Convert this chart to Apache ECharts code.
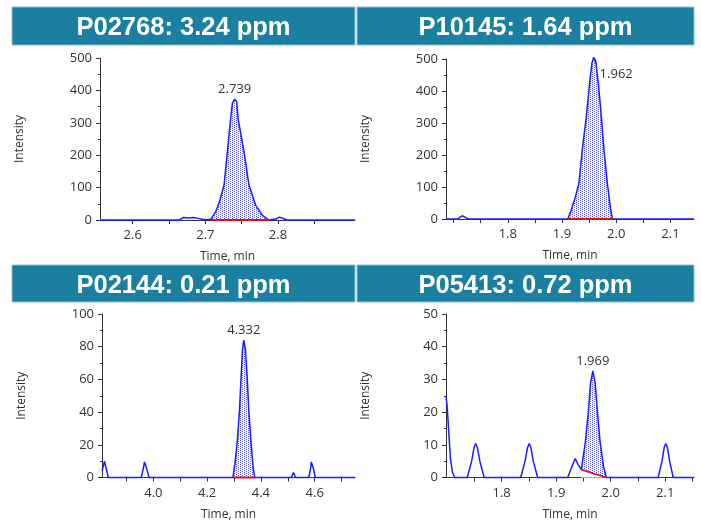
<!DOCTYPE html>
<html>
<head>
<meta charset="utf-8">
<script src="https://cdn.jsdelivr.net/npm/echarts@6/dist/echarts.min.js"></script>
<style>
html, body { margin: 0; padding: 0; background: #fff; }
#main { width: 701px; height: 523px; }
</style>
</head>
<body>
<div id="main"></div>
<script>
// titles of the four panels
var titles = ['P02768: 3.24 ppm', 'P10145: 1.64 ppm', 'P02144: 0.21 ppm', 'P05413: 0.72 ppm'];

// P02768 trace (time, intensity)
var p1Time = [2.555, 2.664, 2.670, 2.677, 2.684, 2.690, 2.696, 2.702, 2.7075, 2.7144, 2.720, 2.7258, 2.7304, 2.7349, 2.7372, 2.7404, 2.7432, 2.745, 2.7532, 2.760, 2.7692, 2.7783, 2.7874, 2.797, 2.802, 2.808, 2.812, 2.906];
var p1Int = [0, 0, 8, 6, 8, 5, 2, 1, 2, 26, 60, 108, 211, 314, 360, 373, 365, 314, 211, 108, 46, 15, 0, 3, 9, 4, 0, 0];
var p1Window = [2.7075, 2.7874];
var p1Apex = [2.7404, 373, '2.739'];

// P10145 trace
var p2Time = [1.686, 1.708, 1.712, 1.716, 1.721, 1.727, 1.9108, 1.917, 1.924, 1.9312, 1.9374, 1.9448, 1.9509, 1.9552, 1.9583, 1.962, 1.967, 1.9726, 1.9774, 1.9837, 1.9898, 1.993, 2.1435];
var p2Int = [0, 0, 6, 10, 6, 0, 0, 28, 65, 111, 216, 319, 424, 487, 505, 495, 424, 319, 216, 111, 28, 0, 0];
var p2Window = [1.9108, 1.993];
var p2Apex = [1.9583, 500, '1.962'];
var p2Leader = [[1.9590, 500], [1.9635, 484]];

// P02144 trace
var p3Time = [3.809, 3.814, 3.818, 3.822, 3.827, 3.832, 3.955, 3.962, 3.967, 3.971, 3.976, 3.984, 4.2957, 4.303, 4.3117, 4.3204, 4.3265, 4.3315, 4.3364, 4.3426, 4.3488, 4.3549, 4.3636, 4.371, 4.3772, 4.513, 4.521, 4.529, 4.578, 4.584, 4.5876, 4.5916, 4.596, 4.602, 4.75];
var p3Int = [4, 7, 10, 10, 4, 0, 0, 5, 9.5, 9.5, 5, 0, 0, 8, 21, 41, 62, 78, 84, 78, 62, 41, 21, 6, 0, 0, 3, 0, 0, 5, 9.5, 9.5, 5, 0, 0];
var p3Window = [4.2957, 4.3772];
var p3Apex = [4.3364, 84, '4.332'];

// P05413 trace
var p4Time = [1.698, 1.700, 1.703, 1.706, 1.710, 1.714, 1.737, 1.745, 1.7495, 1.7525, 1.7555, 1.760, 1.768, 1.835, 1.843, 1.8476, 1.8506, 1.8536, 1.858, 1.866, 1.9212, 1.928, 1.9348, 1.940, 1.946, 1.9532, 1.9593, 1.963, 1.9672, 1.9716, 1.9753, 1.9808, 1.9869, 1.9918, 2.087, 2.094, 2.098, 2.101, 2.104, 2.108, 2.1146, 2.1527];
var p4Int = [25, 22, 14, 6, 1.5, 0, 0, 5, 9.2, 10.4, 9.2, 5, 0, 0, 5, 9.2, 10.4, 9.2, 5, 0, 0, 3, 5.8, 4, 2.4, 10.4, 20.6, 28.8, 32.6, 28.8, 20.6, 10.4, 3.3, 0, 0, 5, 9.2, 10.4, 9.2, 5, 0, 0];
var p4Window = [1.946, 1.9918];
var p4Baseline = [[1.946, 2.4], [1.9918, 0]];
var p4Apex = [1.9672, 32.6, '1.969'];

// axis ticks
var p1Labels = [2.6, 2.7, 2.8];
var p1Ticks = [2.6, 2.65, 2.7, 2.75, 2.8, 2.85];
var p2Labels = [1.8, 1.9, 2.0, 2.1];
var p2Ticks = [1.7, 1.75, 1.8, 1.85, 1.9, 1.95, 2.0, 2.05, 2.1];
var p3Labels = [4.0, 4.2, 4.4, 4.6];
var p3Ticks = [3.9, 4.0, 4.1, 4.2, 4.3, 4.4, 4.5, 4.6, 4.7];
var p4Labels = [1.8, 1.9, 2.0, 2.1];
var p4Ticks = [1.75, 1.8, 1.85, 1.9, 1.95, 2.0, 2.05, 2.1, 2.15];

function pairs(t, v) {
    return t.map(function (x, i) { return [x, v[i]]; });
}
function inWindow(t, v, w) {
    return pairs(t, v).filter(function (p) { return p[0] >= w[0] && p[0] <= w[1]; });
}

// dotted fill like the integration hatch
function dotPattern() {
    var c = document.createElement('canvas');
    c.width = 4; c.height = 2;
    var ctx = c.getContext('2d');
    ctx.fillStyle = '#ffffff';
    ctx.fillRect(0, 0, 4, 2);
    ctx.fillStyle = '#5858ff';
    ctx.fillRect(0, 0, 1, 1);
    ctx.fillRect(2, 1, 1, 1);
    return c;
}
var pattern = { image: dotPattern(), repeat: 'repeat' };

var panels = [
    { grid: { left: 100, top: 58, width: 255, height: 162 }, min: 2.555, max: 2.906, ymax: 500, yint: 100,
      t: p1Time, v: p1Int, w: p1Window, apex: p1Apex, labels: p1Labels, ticks: p1Ticks, labelPos: 'top' },
    { grid: { left: 446, top: 59, width: 248, height: 160 }, min: 1.686, max: 2.1435, ymax: 500, yint: 100,
      t: p2Time, v: p2Int, w: p2Window, apex: p2Apex, labels: p2Labels, ticks: p2Ticks, labelPos: 'right',
      leader: p2Leader },
    { grid: { left: 102, top: 314, width: 253, height: 163.5 }, min: 3.809, max: 4.75, ymax: 100, yint: 20,
      t: p3Time, v: p3Int, w: p3Window, apex: p3Apex, labels: p3Labels, ticks: p3Ticks, labelPos: 'top' },
    { grid: { left: 446, top: 314, width: 248, height: 163.5 }, min: 1.698, max: 2.1527, ymax: 50, yint: 10,
      t: p4Time, v: p4Int, w: p4Window, apex: p4Apex, labels: p4Labels, ticks: p4Ticks, labelPos: 'top',
      baseline: p4Baseline }
];

var axisColor = '#333';
var font = '"Open Sans", "Noto Sans", sans-serif';
var grids = [], xAxes = [], yAxes = [], series = [], graphics = [];

panels.forEach(function (p, i) {
    grids.push(p.grid);
    xAxes.push({
        type: 'value', gridIndex: i, min: p.min, max: p.max,
        name: 'Time, min', nameLocation: 'middle', nameGap: 31,
        nameTextStyle: { color: axisColor, fontSize: 12, fontFamily: font },
        axisLine: { onZero: false, lineStyle: { color: axisColor } },
        axisTick: { show: true, length: 4, customValues: p.ticks, lineStyle: { color: axisColor } },
        axisLabel: { customValues: p.labels, margin: 9, color: axisColor, fontSize: 13, fontFamily: font,
            formatter: function (v) { return v.toFixed(1); } },
        splitLine: { show: false }
    });
    yAxes.push({
        type: 'value', gridIndex: i, min: 0, max: p.ymax, interval: p.yint,
        name: 'Intensity', nameLocation: 'middle', nameGap: 74, nameRotate: 90,
        nameTextStyle: { color: axisColor, fontSize: 12, fontFamily: font },
        axisLine: { show: true, lineStyle: { color: axisColor } },
        axisTick: { show: true, length: 4, lineStyle: { color: axisColor } },
        minorTick: { show: true, splitNumber: 2, length: 2, lineStyle: { color: axisColor } },
        axisLabel: { margin: 8, color: axisColor, fontSize: 13, fontFamily: font },
        splitLine: { show: false }
    });

    // integrated peak area
    series.push({
        type: 'line', xAxisIndex: i, yAxisIndex: i, data: inWindow(p.t, p.v, p.w),
        showSymbol: false, lineStyle: { width: 0 }, areaStyle: { color: pattern, opacity: 1 },
        z: 1, silent: true, clip: false
    });
    if (p.baseline) {
        // blank out the part under the sloped baseline
        series.push({
            type: 'line', xAxisIndex: i, yAxisIndex: i, data: p.baseline,
            showSymbol: false, lineStyle: { width: 0 }, areaStyle: { color: '#ffffff', opacity: 1 },
            z: 2, silent: true
        });
    }

    var labelOpt = p.labelPos === 'top'
        ? { show: true, position: 'top', distance: 3 }
        : { show: true, position: 'right', distance: 6, offset: [0, 15] };
    labelOpt.formatter = p.apex[2];
    labelOpt.color = axisColor;
    labelOpt.fontSize = 13;
    labelOpt.fontFamily = font;

    // full trace
    series.push({
        type: 'line', xAxisIndex: i, yAxisIndex: i, data: pairs(p.t, p.v),
        showSymbol: false, clip: false, z: 3,
        lineStyle: { color: '#1c1cff', width: 1.5 },
        markPoint: {
            symbol: 'circle', symbolSize: 0, silent: true,
            data: [{ coord: [p.apex[0], p.apex[1]], label: labelOpt }]
        }
    });

    if (p.leader) {
        series.push({
            type: 'line', xAxisIndex: i, yAxisIndex: i, data: p.leader,
            showSymbol: false, clip: false, z: 5, silent: true,
            lineStyle: { color: axisColor, width: 1 }
        });
    }

    // red integration baseline
    var base = p.baseline || [[p.w[0], 0], [p.w[1], 0]];
    series.push({
        type: 'line', xAxisIndex: i, yAxisIndex: i, data: base,
        showSymbol: false, clip: false, z: 4, silent: true,
        lineStyle: { color: '#e01010', width: 1.8 }
    });
});

// header bars
var heads = [
    { x: 12, y: 7, w: 343, h: 38 },
    { x: 357, y: 7, w: 337, h: 38 },
    { x: 12, y: 265, w: 343, h: 37 },
    { x: 357, y: 265, w: 337, h: 37 }
];
heads.forEach(function (h, i) {
    graphics.push({
        type: 'rect', z: 100, shape: { x: h.x, y: h.y, width: h.w, height: h.h },
        style: { fill: '#1a7fa0', stroke: '#8fc0d2', lineWidth: 1 }
    });
    graphics.push({
        type: 'text', z: 101, x: h.x + h.w / 2, y: h.y + h.h / 2 + 2,
        style: {
            text: titles[i], fill: '#ffffff', font: 'bold 25.5px "Liberation Sans", Arial, sans-serif',
            align: 'center', verticalAlign: 'middle', textAlign: 'center', textVerticalAlign: 'middle'
        }
    });
});

var chart = echarts.init(document.getElementById('main'));
chart.setOption({
    animation: false,
    backgroundColor: '#ffffff',
    grid: grids,
    xAxis: xAxes,
    yAxis: yAxes,
    series: series,
    graphic: graphics
});
window.onresize = function () {
    chart.resize();
};
</script>
</body>
</html>
